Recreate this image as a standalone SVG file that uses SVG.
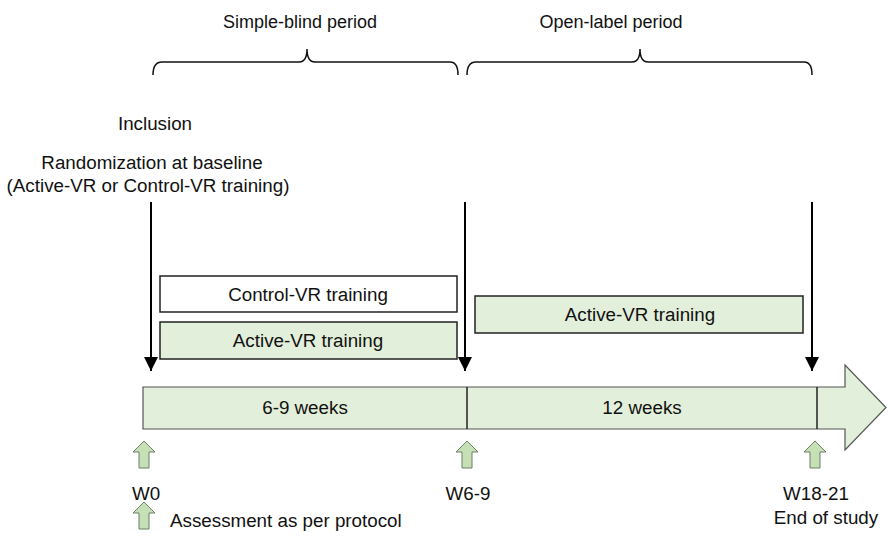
<svg xmlns="http://www.w3.org/2000/svg" width="888" height="545" viewBox="0 0 888 545">
<style>
text{font-family:"Liberation Sans","Open Sans",Arial,sans-serif;font-size:18.8px;fill:#111;text-anchor:middle}
.top{font-size:18px}
.brace{fill:none;stroke:#111;stroke-width:1.5}
.box{stroke:#222;stroke-width:1.5}
.green{fill:#e2efda}
.conn{stroke:#000;stroke-width:2;fill:none}
.up{fill:#c5e0b4;stroke:#6f7f69;stroke-width:1}
</style>
<defs>
<marker id="ah" viewBox="0 0 14 14" refX="14" refY="7" markerWidth="14" markerHeight="14" markerUnits="userSpaceOnUse" orient="auto">
<path d="M0,0 L14,7 L0,14 Z" fill="#000"/>
</marker>
<path id="uparrow" d="M0,0 L11,11 L5,11 L5,27 L-5,27 L-5,11 L-11,11 Z"/>
</defs>

<g id="periods">
<path class="brace" d="M153,75 Q153,62 162,62 L299,62 Q307,62 307,49 Q307,62 315,62 L450,62 Q458,62 458,75"/>
<text class="top" x="300" y="28">Simple-blind period</text>
<path class="brace" d="M467,75 Q467,62 476,62 L632,62 Q640,62 640,49 Q640,62 648,62 L804,62 Q812,62 812,75"/>
<text class="top" x="611" y="28">Open-label period</text>
</g>

<g id="inclusion">
<text x="155" y="130">Inclusion</text>
<text x="152" y="169">Randomization at baseline</text>
<text x="148" y="192">(Active-VR or Control-VR training)</text>
</g>

<g id="control-vr">
<rect class="box" x="160" y="276" width="297" height="36" fill="#fff"/>
<text x="308" y="301">Control-VR training</text>
</g>
<g id="active-vr-1">
<rect class="box green" x="160" y="322" width="297" height="37"/>
<text x="308" y="347">Active-VR training</text>
</g>
<g id="active-vr-2">
<rect class="box green" x="475" y="296" width="328" height="37"/>
<text x="640" y="321">Active-VR training</text>
</g>

<g id="timeline">
<path d="M143,387 L845,387 L845,365 L886,407.5 L845,450 L845,429 L143,429 Z" fill="#e2efda" stroke="#555" stroke-width="1.2"/>
<line x1="467" y1="387" x2="467" y2="429" stroke="#222" stroke-width="1.5"/>
<line x1="817" y1="387" x2="817" y2="429" stroke="#222" stroke-width="1.5"/>
<text x="305" y="414">6-9 weeks</text>
<text x="642" y="414">12 weeks</text>
</g>

<g id="connectors">
<line class="conn" x1="151" y1="202" x2="151" y2="371" marker-end="url(#ah)"/>
<line class="conn" x1="465" y1="202" x2="465" y2="371" marker-end="url(#ah)"/>
<line class="conn" x1="812" y1="202" x2="812" y2="371" marker-end="url(#ah)"/>
</g>

<g id="w0">
<use href="#uparrow" class="up" x="144" y="441"/>
<text x="146" y="500">W0</text>
</g>
<g id="w6-9">
<use href="#uparrow" class="up" x="467" y="441"/>
<text x="468" y="500">W6-9</text>
</g>
<g id="w18-21">
<use href="#uparrow" class="up" x="815" y="441"/>
<text x="816" y="500">W18-21</text>
<text x="826" y="524">End of study</text>
</g>
<g id="legend">
<use href="#uparrow" class="up" x="144" y="502"/>
<text x="170" y="527" style="text-anchor:start">Assessment as per protocol</text>
</g>
</svg>
